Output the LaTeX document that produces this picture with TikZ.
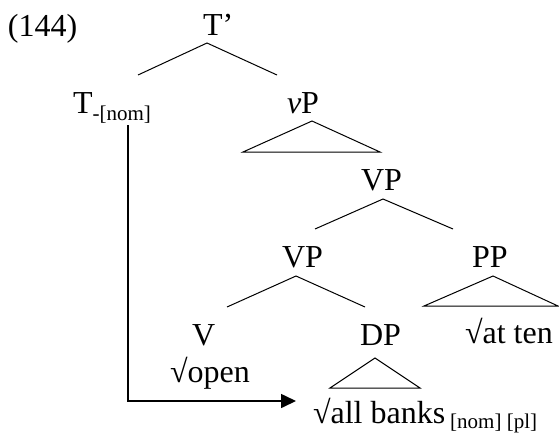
\documentclass[tikz,border=0pt]{standalone}
\usepackage{fontspec}
\setmainfont{Liberation Serif}
\usetikzlibrary{arrows.meta}
\begin{document}
\begin{tikzpicture}[x=1pt,y=-1pt,
  lbl/.style={inner sep=0pt, outer sep=0pt, anchor=base west, font=\fontsize{32}{38}\selectfont},
  edge/.style={line width=1pt},
  arr/.style={line width=1.6pt, -{Triangle[length=15pt,width=14pt]}}]
\useasboundingbox (0,0) rectangle (559,437);
\newcommand{\subtxt}[2]{{\fontsize{21}{25}\selectfont\raisebox{-#1}{#2}}}

% labels
\node[lbl] (ex)   at (8,36)   {(144)};
\node[lbl] (Tbar) at (203,35) {T’};
\node[lbl] (T)    at (73,113) {T\subtxt{7pt}{-[nom]}};
\node[lbl] (vP)   at (287,113) {\textit{v}P};
\node[lbl] (VP1)  at (361,190) {VP};
\node[lbl] (VP2)  at (282,267) {VP};
\node[lbl] (PP)   at (472,267) {PP};
\node[lbl] (V)    at (192,345) {V};
\node[lbl] (DP)   at (360,345) {DP};
\node[lbl] (at)   at (465,343) {√at ten};
\node[lbl] (open) at (170,382) {√open};
\node[lbl] (all)  at (313,423) {√all banks\hspace{5pt}\subtxt{5pt}{[nom] [pl]}};

% branch points
\coordinate (aT)  at (207,43);
\coordinate (lT)  at (138,75);
\coordinate (rT)  at (277,75);
\coordinate (avP) at (312,121);
\coordinate (blvP) at (243,152);
\coordinate (brvP) at (380,152);
\coordinate (aVP1) at (383,199);
\coordinate (lVP1) at (315,229);
\coordinate (rVP1) at (453,229);
\coordinate (aVP2) at (296,276);
\coordinate (lVP2) at (227,307);
\coordinate (rVP2) at (365,307);
\coordinate (aPP) at (493,276);
\coordinate (blPP) at (424,306);
\coordinate (brPP) at (558,306);
\coordinate (aDP) at (375,358);
\coordinate (blDP) at (330,388);
\coordinate (brDP) at (420,388);
\coordinate (arrS) at (128,125);
\coordinate (arrC) at (128,401);
\coordinate (arrE) at (296,401);

% edges
\draw[edge] (lT) -- (aT) -- (rT);
\draw[edge] (avP) -- (blvP) -- (brvP) -- cycle;
\draw[edge] (lVP1) -- (aVP1) -- (rVP1);
\draw[edge] (lVP2) -- (aVP2) -- (rVP2);
\draw[edge] (aPP) -- (blPP) -- (brPP) -- cycle;
\draw[edge] (aDP) -- (blDP) -- (brDP) -- cycle;
\draw[arr] (arrS) -- (arrC) -- (arrE);
\end{tikzpicture}
\end{document}
